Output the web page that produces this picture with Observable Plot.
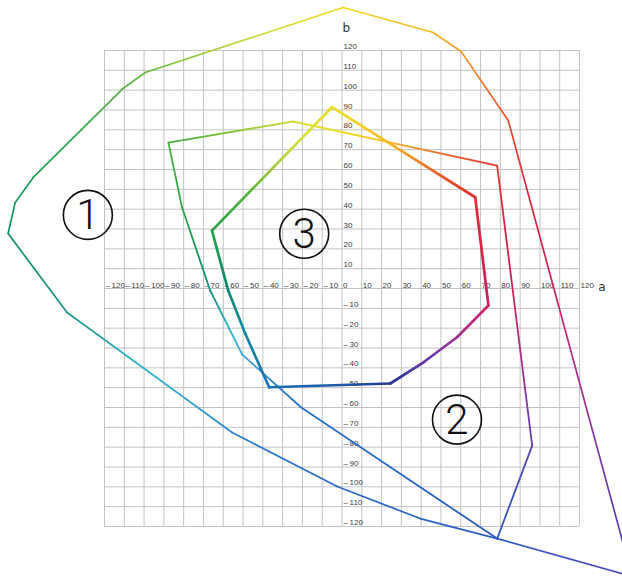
<!DOCTYPE html>
<html>
<head>
<meta charset="utf-8">
<script src="https://cdn.jsdelivr.net/npm/d3@7"></script>
<script src="https://cdn.jsdelivr.net/npm/@observablehq/plot@0.6"></script>
<style>
  html, body { margin: 0; padding: 0; background: #ffffff; overflow: hidden; }
  #chart svg { display: block; background: #ffffff; }
</style>
</head>
<body>
<div id="chart"></div>
<script>
// ---- grid ticks and labels ----
const tickValues = [-120, -110, -100, -90, -80, -70, -60, -50, -40, -30, -20, -10, 0, 10, 20, 30, 40, 50, 60, 70, 80, 90, 100, 110, 120];
const xTickLabels = ["–\u2009120", "–\u2009110", "–\u2009100", "–\u200990", "–\u200980", "–\u200970", "–\u200960", "–\u200950", "–\u200940", "–\u200930", "–\u200920", "–\u200910", "0", "10", "20", "30", "40", "50", "60", "70", "80", "90", "100", "110", "120"];
const yTickValues = [-120, -110, -100, -90, -80, -70, -60, -50, -40, -30, -20, -10, 10, 20, 30, 40, 50, 60, 70, 80, 90, 100, 110, 120];
const yTickLabels = ["–\u2009120", "–\u2009110", "–\u2009100", "–\u200990", "–\u200980", "–\u200970", "–\u200960", "–\u200950", "–\u200940", "–\u200930", "–\u200920", "–\u200910", "10", "20", "30", "40", "50", "60", "70", "80", "90", "100", "110", "120"];

// ---- gamut 1 (largest) vertices: a, b ----
const gamut1A = [0.6, 46.1, 60.2, 84.0, 146.6, 78.4, 39.5, -2.4, -55.5, -138.9, -168.7, -165.1, -156.0, -110.6, -99.4];
const gamut1B = [141.7, 129.1, 119.5, 84.7, -145.2, -126.1, -116.0, -99.8, -72.6, -12.1, 27.7, 43.4, 56.0, 100.9, 108.9];

// ---- gamut 2 (medium) vertices ----
const gamut2A = [-87.7, -24.7, 78.4, 96.1, 78.4, -20.6, -50.4, -66.6, -80.8];
const gamut2B = [73.6, 84.2, 62.0, -79.2, -126.1, -60.0, -33.3, -1.0, 40.8];

// ---- gamut 3 (smallest) vertices ----
const gamut3A = [-5.1, 67.3, 74.0, 58.1, 41.2, 24.4, -36.8, -48.9, -57.5, -65.7];
const gamut3B = [91.4, 46.0, -8.6, -24.6, -37.2, -47.9, -49.8, -22.7, -1.0, 29.2];

// ---- circled labels ----
const labelText = ["1", "2", "3"];
const labelA = [-128.4, 58.1, -19.1];
const labelB = [37.1, -66.1, 27.6];

// ---- hue → colour (style) ----
const hueStops   = [0, 30, 40, 50, 63, 72, 90, 105, 120, 135, 150, 160, 170, 180, 200, 215, 235, 260, 285, 297, 305, 315, 322, 337, 350, 360];
const hueColors  = ["#cf1f5a", "#df2838", "#e73d2e", "#ea5e2e", "#f09a30", "#f5bb28", "#f0dc20", "#d6df3c", "#a0cc38", "#5ab440", "#30a848", "#1fa050", "#10905e", "#17907a", "#2eb2c8", "#36a6d8", "#2c80cc", "#2a6cc8", "#2a66c6", "#2c5ec4", "#3458c4", "#4c48c0", "#6a3cb0", "#a03090", "#c82870", "#cf1f5a"];
const hueColors3 = ["#cf1f5a", "#df2838", "#e73d2e", "#ea5e2e", "#f09a30", "#f5bb28", "#f0dc20", "#d6df3c", "#a0cc38", "#5ab440", "#30a848", "#1fa050", "#10905e", "#0e8a74", "#138c9a", "#1880a8", "#1a70b4", "#1e5eaa", "#22489c", "#283c94", "#38389a", "#5a34a0", "#6a3cb0", "#a03090", "#c82870", "#cf1f5a"];
const hueScale  = d3.scaleLinear().domain(hueStops).range(hueColors).interpolate(d3.interpolateRgb);
const hueScale3 = d3.scaleLinear().domain(hueStops).range(hueColors3).interpolate(d3.interpolateRgb);
function colorAt(a, b, scale) {
  let h = Math.atan2(b, a) * 180 / Math.PI;
  if (h < 0) h += 360;
  return scale(h);
}

function edgesOf(A, B, name, w, scale) {
  return A.map((a, i) => ({
    id: `${name}-${i}`,
    a1: a, b1: B[i],
    a2: A[(i + 1) % A.length], b2: B[(i + 1) % A.length],
    w, scale
  }));
}
const edges = [
  ...edgesOf(gamut1A, gamut1B, "g1", 1.7, hueScale),
  ...edgesOf(gamut2A, gamut2B, "g2", 1.8, hueScale),
  ...edgesOf(gamut3A, gamut3B, "g3", 2.7, hueScale3)
];

const labels = labelText.map((t, i) => ({t, a: labelA[i], b: labelB[i]}));
const xTicks = tickValues.map((v, i) => ({v, t: xTickLabels[i]}));
const yTicks = yTickValues.map((v, i) => ({v, t: yTickLabels[i]}));

const tickFont = "'Liberation Sans', Arial, sans-serif";

const chart = Plot.plot({
  width: 622,
  height: 576,
  marginLeft: 104,
  marginRight: 43,
  marginTop: 50,
  marginBottom: 50,
  x: {domain: [-120, 120], axis: null},
  y: {domain: [-120, 120], axis: null},
  style: {background: "#ffffff", overflow: "hidden"},
  marks: [
    Plot.ruleX(tickValues, {x: d => d, y1: -120, y2: 120, stroke: "#c3c3c3", strokeWidth: 1}),
    Plot.ruleY(tickValues, {y: d => d, x1: -120, x2: 120, stroke: "#c3c3c3", strokeWidth: 1}),
    Plot.text(xTicks, {x: "v", y: 0, text: "t", textAnchor: "start", lineAnchor: "bottom", dx: 1, dy: -1, fontSize: 8, fill: "#3a3a3a", fontFamily: tickFont}),
    Plot.text(yTicks, {x: 0, y: "v", text: "t", textAnchor: "start", lineAnchor: "bottom", dx: 1.5, dy: -1.5, fontSize: 8, fill: "#3a3a3a", fontFamily: tickFont}),
    Plot.text(["a"], {x: 129.5, y: 0, text: d => d, textAnchor: "start", lineAnchor: "bottom", dy: 2, fontSize: 12, fill: "#333", fontFamily: "'DejaVu Sans', sans-serif"}),
    Plot.text(["b"], {x: 0, y: 129.2, text: d => d, textAnchor: "start", lineAnchor: "bottom", dx: 0.5, fontSize: 12, fill: "#333", fontFamily: "'DejaVu Sans', sans-serif"}),
    ...edges.map(e => Plot.link([e], {
      x1: "a1", y1: "b1", x2: "a2", y2: "b2",
      stroke: `url(#${e.id})`, strokeWidth: e.w, strokeLinecap: "round"
    })),
    Plot.dot(labels, {x: "a", y: "b", r: 24.5, stroke: "#111", strokeWidth: 1.6, fill: "none"}),
    Plot.text(labels, {x: "a", y: "b", text: "t", fontSize: 42, fontWeight: 300, fill: "#111", fontFamily: "Roboto, 'DejaVu Sans', sans-serif", textAnchor: "middle", lineAnchor: "middle", dy: 1})
  ]
});

// gradients along each edge
const sx = chart.scale("x"), sy = chart.scale("y");
const defs = d3.select(chart).insert("defs", ":first-child");
for (const e of edges) {
  const g = defs.append("linearGradient")
    .attr("id", e.id)
    .attr("gradientUnits", "userSpaceOnUse")
    .attr("x1", sx.apply(e.a1)).attr("y1", sy.apply(e.b1))
    .attr("x2", sx.apply(e.a2)).attr("y2", sy.apply(e.b2));
  const n = 12;
  for (let k = 0; k <= n; k++) {
    const t = k / n;
    g.append("stop")
      .attr("offset", t)
      .attr("stop-color", colorAt(e.a1 + t * (e.a2 - e.a1), e.b1 + t * (e.b2 - e.b1), e.scale));
  }
}
document.getElementById("chart").appendChild(chart);
</script>
</body>
</html>
